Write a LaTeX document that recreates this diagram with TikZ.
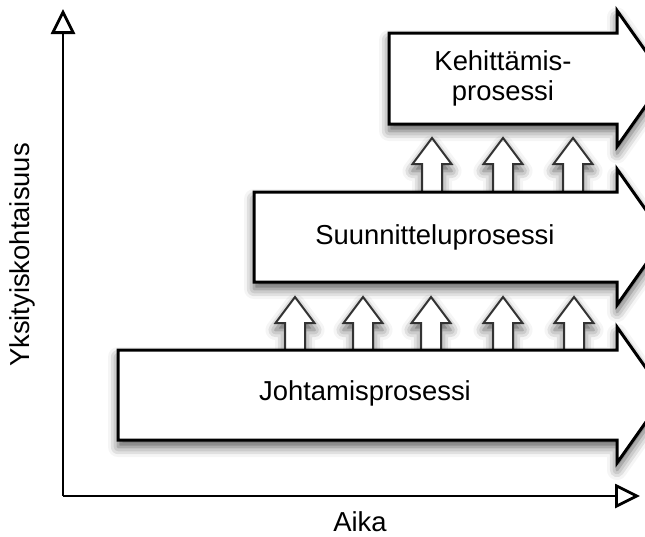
\documentclass[tikz,border=0pt]{standalone}
\usepackage{fontspec}
\setmainfont{Liberation Sans}
\usetikzlibrary{arrows.meta,shadows.blur}
\begin{document}
\begin{tikzpicture}[x=1pt,y=-1pt,
  soft shadow/.style={blur shadow={shadow xshift=0pt,shadow yshift=-7pt,
      shadow blur radius=10pt,shadow opacity=65}},
  procarrow/.style={draw=black,line width=3pt,fill=white,line join=miter,soft shadow},
  liftarrow/.style={draw=black!80,line width=2pt,fill=white,line join=miter,soft shadow},
  axis/.style={line width=2.5pt,
      -{Triangle[open,length=25pt,width=24pt,fill=white,line width=2.8pt]}},
  lbl/.style={font=\fontsize{27.4}{30}\selectfont,align=center,inner sep=0pt}]
\useasboundingbox (0,0) rectangle (645,536);
\clip (0,0) rectangle (645,536);

% large process arrow: #1 left edge, #2 top, #3 bottom, head half-height 68
\newcommand{\procshape}[3]{%
  \path[procarrow] (#1,#2) -- (617,#2) -- (617,{(#2+#3)/2-68}) -- (665,{(#2+#3)/2})
    -- (617,{(#2+#3)/2+68}) -- (617,#3) -- (#1,#3) -- cycle;}
% small upward arrow: #1 centre x, #2 tip y, #3 foot y
\newcommand{\liftshape}[3]{%
  \path[liftarrow] (#1-10,#3) -- (#1-10,#2+26) -- (#1-19.5,#2+26) -- (#1,#2)
    -- (#1+19.5,#2+26) -- (#1+10,#2+26) -- (#1+10,#3) -- cycle;}

% axes
\coordinate (origin) at (63,496);
\coordinate (ytip) at (63,9);
\coordinate (xtip) at (640,496);
\draw[axis] (origin) -- (ytip);
\draw[axis] (origin) -- (xtip);

% lifts between the levels
\foreach \cx in {432,503,573} {\liftshape{\cx}{138}{194}}
\foreach \cx in {295,363,431,503,574} {\liftshape{\cx}{297}{352}}

% the three process levels
\procshape{389}{33}{124}
\procshape{254}{192}{282}
\procshape{118}{350}{440}

\node[lbl] (kehitys) at (503,78) {Kehittämis-\\prosessi};
\node[lbl] (suunnittelu) at (435,237) {Suunnitteluprosessi};
\node[lbl] (johtaminen) at (365,393) {Johtamisprosessi};

\node[lbl,rotate=90] (ylabel) at (22,255) {Yksityiskohtaisuus};
\node[lbl] (xlabel) at (360,522) {Aika};
\end{tikzpicture}
\end{document}
